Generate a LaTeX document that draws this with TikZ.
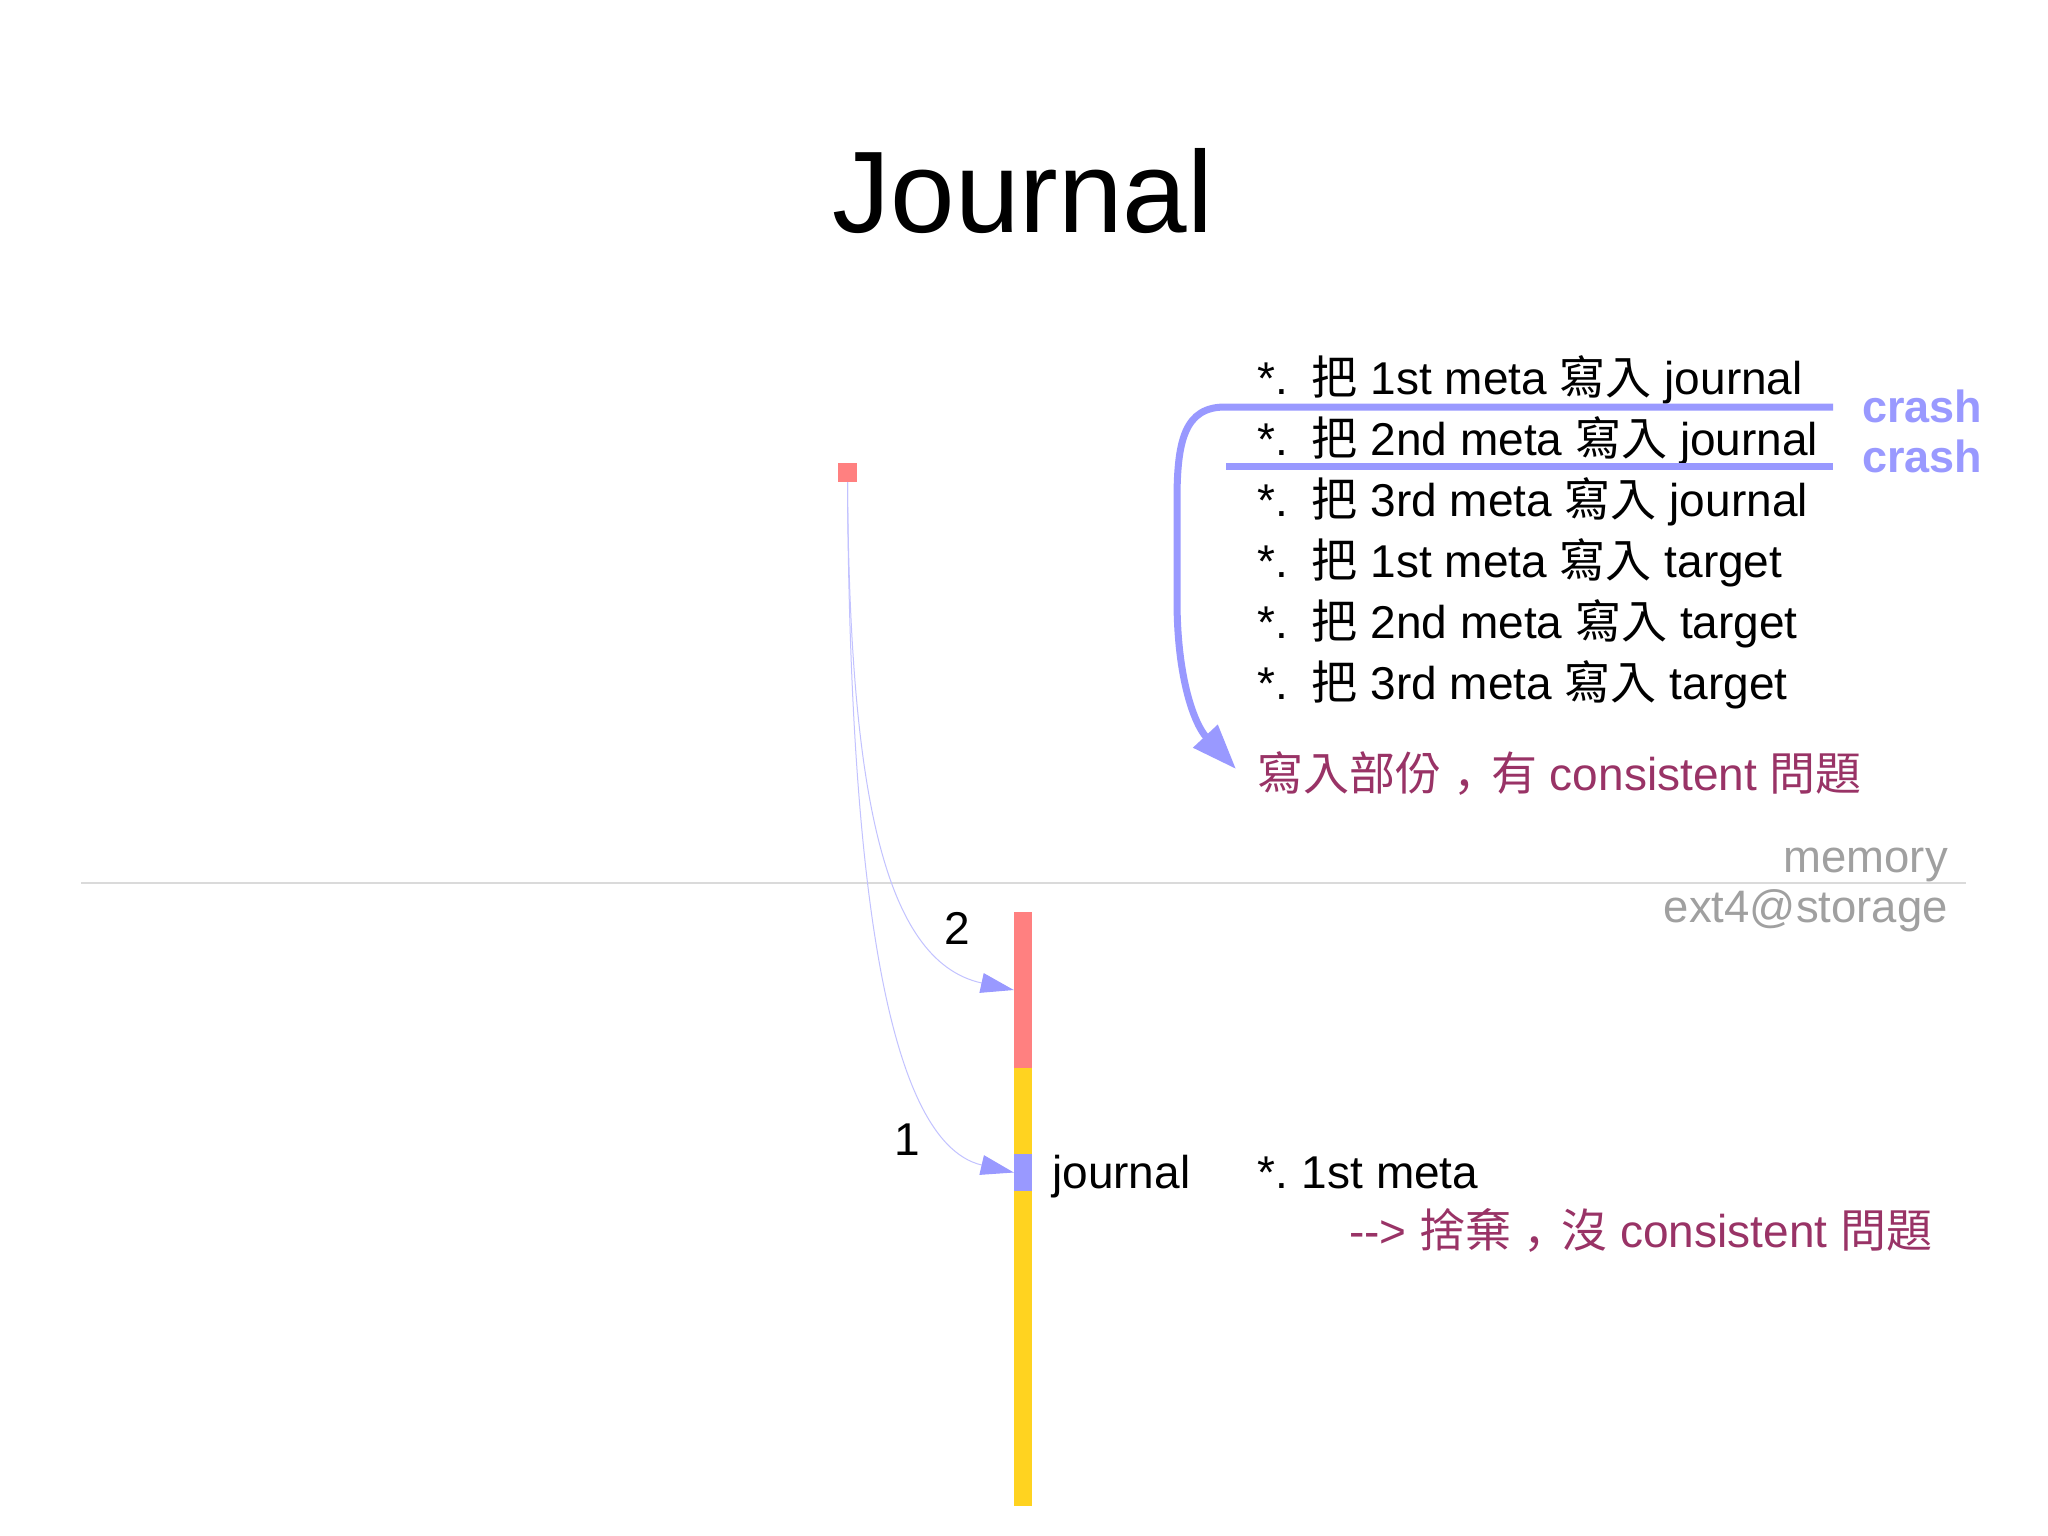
\documentclass[tikz,border=0pt]{standalone}
\usepackage{fontspec}
\setmainfont{Liberation Sans}
\newfontfamily\cjk{Noto Sans CJK TC}
\newfontfamily\cjkpunct{Noto Sans CJK SC}
\usepackage{tikz}
\usetikzlibrary{arrows.meta, positioning}

\newcommand\zh[1]{{\cjk #1}}
\newcommand\zhcomma{\hspace{12pt}{\cjkpunct ，}\hspace{-8pt}}
\newcommand\listfont{\fontsize{46}{55}\selectfont}
\newcommand\layerfont{\fontsize{45.5}{55}\selectfont}
\newcommand\crashfont{\fontsize{45}{54}\selectfont\bfseries}
\newcommand\titlefont{\fontsize{116}{140}\selectfont}

\definecolor{jred}{HTML}{FF8080}
\definecolor{jyellow}{HTML}{FFD320}
\definecolor{jblue}{HTML}{9999FF}
\definecolor{warnred}{HTML}{993366}
\definecolor{memgray}{HTML}{A0A0A0}
\definecolor{sepgray}{HTML}{DADADA}

\tikzset{
  x=1pt, y=-1pt,
  every node/.style={inner sep=0pt},
  blk/.style={rectangle, minimum width=18pt, draw=none},
  listline/.style={anchor=base west, font=\listfont},
  warnline/.style={anchor=base west, font=\listfont, text=warnred},
  crashlbl/.style={anchor=base west, font=\crashfont, text=jblue},
  layerlbl/.style={anchor=base east, font=\layerfont, text=memgray},
  writearrow/.style={-{Triangle[length=33pt,width=20pt,color=jblue]}, draw=jblue!60, line width=1pt},
  crashline/.style={draw=jblue, line width=7pt},
}

\begin{document}
\begin{tikzpicture}
  \fill[white] (0,0) rectangle (2048,1535);
  \useasboundingbox (0,0) rectangle (2048,1535);

  \node[anchor=base, font=\titlefont] (title) at (1023,232) {Journal};

  % memory / storage split
  \coordinate (sepL) at (81,883);
  \coordinate (sepR) at (1966,883);
  \draw[sepgray, line width=1.5pt] (sepL) -- (sepR);
  \node[layerlbl] (mem) at (1948,872) {memory};
  \node[layerlbl] (disk) at (1948,922) {ext4@storage};

  % dirty meta in memory
  \node[blk, fill=jred, minimum width=19pt, minimum height=19pt] (memsq) at (847.5,472.5) {};

  % journal area on storage
  \node[blk, fill=jred, minimum height=156pt] (jcommit) at (1023,990) {};
  \node[blk, fill=jyellow, minimum height=438pt] (jdata) at (1023,1287) {};
  \node[blk, fill=jblue, minimum height=37pt] (jmeta) at (1023,1172.5) {};

  \draw[writearrow] (memsq.south) .. controls +(2,298) and +(-133,-29) .. (jcommit.west);
  \draw[writearrow] (memsq.south) .. controls +(2,368) and +(-133,-31) .. (jmeta.west);
  \node[font=\listfont] (n2) at (957,928) {2};
  \node[font=\listfont] (n1) at (907,1140) {1};

  \node[listline] (jlbl) at (1052,1188) {journal};
  \node[listline] (keep) at (1257,1188) {*.\hspace{14pt}1st meta};
  \node[warnline] (drop) at (1349,1247) {-{}-> \zh{捨棄}\zhcomma\zh{沒} consistent \zh{問題}};

  % steps
  \node[listline] (l1) at (1257,394) {*.\hspace{24pt}\zh{把} 1st meta \zh{寫入} journal};
  \node[listline, below=61pt of l1.base west, anchor=base west] (l2) {*.\hspace{24pt}\zh{把} 2nd meta \zh{寫入} journal};
  \node[listline, below=61pt of l2.base west, anchor=base west] (l3) {*.\hspace{24pt}\zh{把} 3rd meta \zh{寫入} journal};
  \node[listline, below=61pt of l3.base west, anchor=base west] (l4) {*.\hspace{24pt}\zh{把} 1st meta \zh{寫入} target};
  \node[listline, below=61pt of l4.base west, anchor=base west] (l5) {*.\hspace{24pt}\zh{把} 2nd meta \zh{寫入} target};
  \node[listline, below=61pt of l5.base west, anchor=base west] (l6) {*.\hspace{24pt}\zh{把} 3rd meta \zh{寫入} target};
  \node[warnline] (warn) at (1257,790) {\zh{寫入部份}\zhcomma\zh{有} consistent \zh{問題}};

  % crash points
  \coordinate (crashA) at (1833,407);
  \coordinate (crashB) at (1226,466);
  \coordinate (crashBend) at (1833,466);
  \coordinate (warntip) at (1236,769);
  \draw[crashline, -{Triangle[length=45pt,width=32pt]}]
    (crashA) -- (1225,407) .. controls (1185,407) and (1177,440) .. (1177,500)
    -- (1177,600) .. controls (1177,680) and (1195,725) .. (warntip);
  \draw[crashline] (crashB) -- (crashBend);
  \node[crashlbl] (c1) at (1862,422) {crash};
  \node[crashlbl] (c2) at (1862,472) {crash};
\end{tikzpicture}
\end{document}
